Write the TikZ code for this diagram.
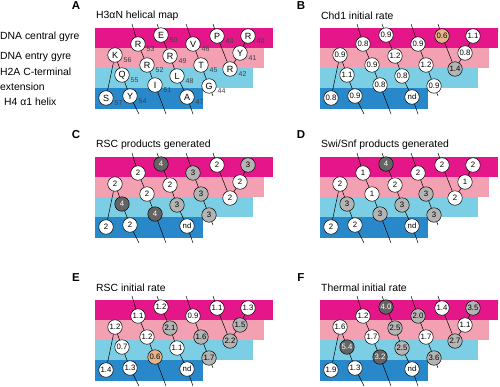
\documentclass[tikz,border=0pt]{standalone}
\usepackage{fontspec}
\setmainfont{Liberation Sans}
\definecolor{cMag}{RGB}{228,22,138}
\definecolor{cPink}{RGB}{242,160,178}
\definecolor{cLblue}{RGB}{124,206,228}
\definecolor{cDblue}{RGB}{40,136,202}
\definecolor{cGray}{RGB}{180,180,180}
\definecolor{cDark}{RGB}{100,100,100}
\definecolor{cOra}{RGB}{230,180,140}
\tikzset{
 res/.style={circle, draw=black, line width=0.5pt, minimum size=14.5pt, inner sep=0pt, font=\fontsize{7.8}{8}\selectfont},
 resw/.style={res, fill=white},
 resg/.style={res, fill=cGray},
 resd/.style={res, fill=cDark, text=white},
 reso/.style={res, fill=cOra},
 resl/.style={res, fill=white, font=\fontsize{9}{9}\selectfont},
 helix/.style={line width=0.5pt, black},
 num/.style={font=\fontsize{7}{7}\selectfont, text=black!75, inner sep=0pt, anchor=west},
 ttl/.style={font=\fontsize{10.4}{11}\selectfont, anchor=west, inner sep=0pt},
 plet/.style={font=\fontsize{11.5}{11}\selectfont\bfseries, inner sep=0pt},
 rowlab/.style={font=\fontsize{10.4}{11}\selectfont, anchor=west, inner sep=0pt},
}
\newcommand{\helixpanel}[6]{%
 \begin{scope}[shift={(#2,#3)}]
  \fill[cMag] (95,28) rectangle (273,48);
  \fill[cPink] (95,48) rectangle (264,68);
  \fill[cLblue] (95,68) rectangle (253,88);
  \fill[cDblue] (95,88) rectangle (203,109);
  \node[plet] (#1let) at (76,6) {#5};
  \node[ttl] (#1ttl) at (96,16) {#6};
  \foreach \n/\x/\y in {40/248/36, 41/240/53, 42/230/69, 43/217/36, 44/209/86,
     45/201/65, 46/193/44, 47/187/97, 48/177/76, 49/170/56, 50/161/35,
     51/155/85, 52/147/65, 53/138/44, 54/130/96, 55/122/75, 56/115/55, 57/106/98}
     \coordinate (#1c\n) at (\x,\y);
  \coordinate (#1t53) at (132,24);
  \coordinate (#1t50) at (157,24);
  \coordinate (#1t46) at (186,24);
  \coordinate (#1t43) at (213,24);
  \coordinate (#1b54) at (139,114);
  \coordinate (#1b51) at (166,114);
  \coordinate (#1b47) at (193,114);
  \coordinate (#1b44) at (213,96);
  \foreach \n/\s/\lab in {#4}
     \node[res\s] (#1\n) at (#1c\n) {\lab};
  \draw[helix] (#1t53) -- (#153) -- (#152) -- (#151) -- (#1b51);
  \draw[helix] (#1t50) -- (#150) -- (#149) -- (#148) -- (#147) -- (#1b47);
  \draw[helix] (#1t46) -- (#146) -- (#145) -- (#144) -- (#1b44);
  \draw[helix] (#1t43) -- (#143) -- (#142) -- (#141) -- (#140);
  \draw[helix] (#157) -- (#156) -- (#155) -- (#154) -- (#1b54);
 \end{scope}}
\begin{document}
\begin{tikzpicture}[x=1pt,y=-1pt]
\useasboundingbox (0,0) rectangle (500,386);
\node[rowlab] (r1) at (0,37) {DNA central gyre};
\node[rowlab] (r2) at (0,57) {DNA entry gyre};
\node[rowlab] (r3) at (0,72) {H2A C-terminal};
\node[rowlab] (r4) at (0,87) {extension};
\node[rowlab] (r5) at (4,102) {H4 α1 helix};
\helixpanel{a}{0}{0}{40/l/R, 41/l/Y, 42/l/R, 43/l/P, 44/l/G, 45/l/T, 46/l/V, 47/l/A, 48/l/L,
  49/l/R, 50/l/E, 51/l/I, 52/l/R, 53/l/R, 54/l/Y, 55/l/Q, 56/l/K, 57/l/S}{A}{H3αN helical map}
\foreach \n in {40,...,57}
  \node[num] (an\n) at ([shift={(8.5,5)}]ac\n) {\n};
\helixpanel{b}{225}{0}{40/w/1.1, 41/w/0.8, 42/g/1.4, 43/o/0.6, 44/w/0.9, 45/w/1.2, 46/w/0.9, 47/w/nd, 48/w/0.8,
  49/w/1.2, 50/w/0.9, 51/w/0.8, 52/w/0.9, 53/w/0.8, 54/w/0.9, 55/w/1.1, 56/w/0.9, 57/w/0.8}{B}{Chd1 initial rate}
\helixpanel{c}{0}{129}{40/g/3, 41/w/2, 42/w/2, 43/w/2, 44/g/3, 45/g/3, 46/g/3, 47/w/nd, 48/g/3,
  49/w/2, 50/d/4, 51/d/4, 52/w/2, 53/w/2, 54/w/2, 55/d/4, 56/w/2, 57/w/2}{C}{RSC products generated}
\helixpanel{d}{225}{129}{40/w/2, 41/w/1, 42/w/2, 43/w/2, 44/g/3, 45/g/3, 46/w/2, 47/w/nd, 48/g/3,
  49/w/2, 50/d/4, 51/g/3, 52/w/1, 53/w/1, 54/w/2, 55/g/3, 56/w/2, 57/w/2}{D}{Swi/Snf products generated}
\helixpanel{e}{0}{272}{40/w/1.3, 41/g/1.5, 42/g/2.2, 43/w/1.1, 44/g/1.7, 45/g/1.6, 46/w/0.9, 47/w/nd, 48/w/1.1,
  49/g/2.1, 50/w/1.2, 51/o/0.6, 52/w/1.2, 53/w/1.1, 54/w/1.3, 55/w/0.7, 56/w/1.2, 57/w/1.4}{E}{RSC initial rate}
\helixpanel{f}{225}{272}{40/g/3.5, 41/w/1.1, 42/g/2.7, 43/w/1.4, 44/g/3.6, 45/w/1.7, 46/g/2.0, 47/w/nd, 48/g/2.5,
  49/g/2.5, 50/d/4.0, 51/d/3.2, 52/w/1.7, 53/w/1.2, 54/w/1.3, 55/d/5.4, 56/w/1.6, 57/w/1.9}{F}{Thermal initial rate}
\end{tikzpicture}
\end{document}
